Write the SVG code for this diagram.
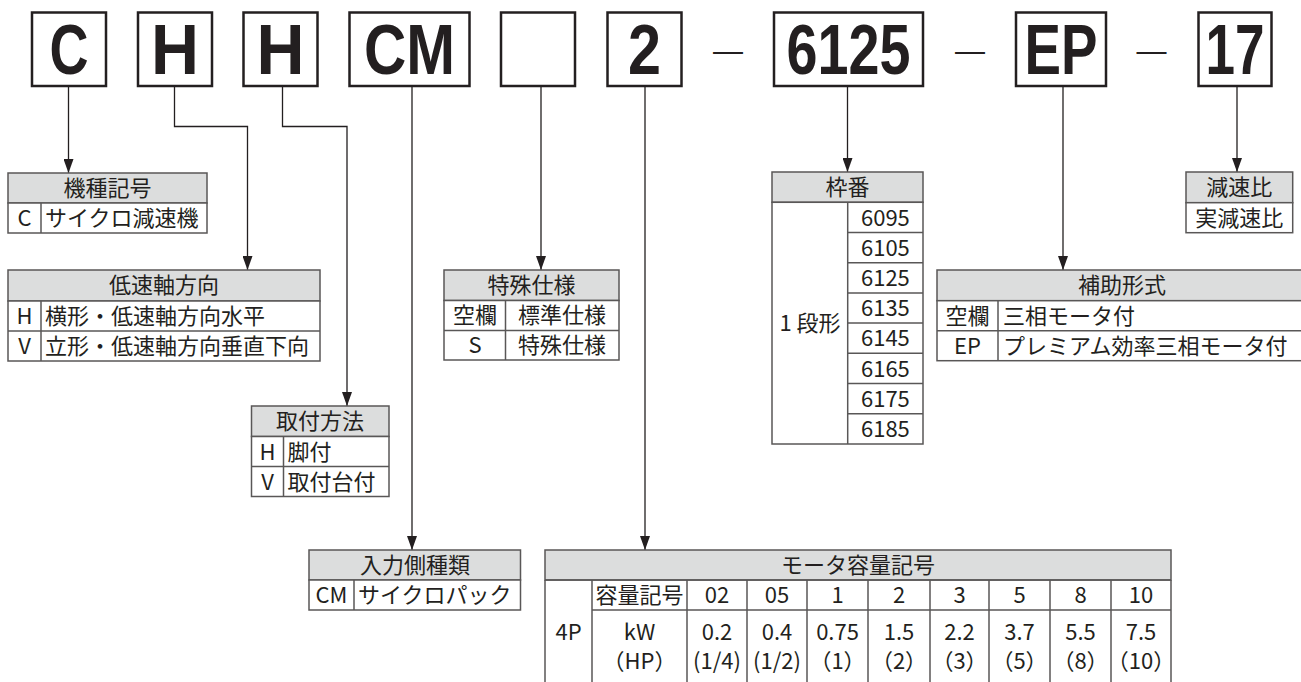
<svg xmlns="http://www.w3.org/2000/svg" width="1301" height="682" viewBox="0 0 1301 682">
<style>
.box{fill:#fff;stroke:#231f20;stroke-width:2.5}
.big{font-family:"Liberation Sans",Arial,sans-serif;font-weight:bold;font-size:70px;fill:#231f20;text-anchor:middle}
.dash{font-family:"Liberation Sans",Arial,sans-serif;font-size:32px;fill:#231f20;text-anchor:middle}
.hd{fill:#dcdddd;stroke:#595757;stroke-width:1.5}
.cl{fill:#fff;stroke:#595757;stroke-width:1.5}
.ln{stroke:#595757;stroke-width:1.5;fill:none}
.t{font-family:"Noto Sans CJK JP","Noto Sans",sans-serif;font-size:22px;fill:#231f20}
.m{text-anchor:middle}
.conn path{fill:none;stroke:#231f20;stroke-width:1.3;marker-end:url(#ah)}
</style>
<defs>
<marker id="ah" markerUnits="userSpaceOnUse" markerWidth="14" markerHeight="10" refX="14" refY="5" orient="auto">
<path d="M0,0 L14,5 L0,10 z" fill="#231f20"/>
</marker>
</defs>
<rect width="1301" height="682" fill="#fff"/>

<g id="code">
<g id="box-c"><rect class="box" x="32" y="12.5" width="74" height="73.5"/><text class="big" x="69" y="74" textLength="39" lengthAdjust="spacingAndGlyphs">C</text></g>
<g id="box-h1"><rect class="box" x="138" y="12.5" width="74" height="73.5"/><text class="big" x="175" y="74" textLength="48" lengthAdjust="spacingAndGlyphs">H</text></g>
<g id="box-h2"><rect class="box" x="243.5" y="12.5" width="74" height="73.5"/><text class="big" x="280.5" y="74" textLength="48" lengthAdjust="spacingAndGlyphs">H</text></g>
<g id="box-cm"><rect class="box" x="349.5" y="12.5" width="120" height="73.5"/><text class="big" x="409.5" y="74" textLength="91" lengthAdjust="spacingAndGlyphs">CM</text></g>
<g id="box-blank"><rect class="box" x="501" y="12.5" width="74" height="73.5"/></g>
<g id="box-2"><rect class="box" x="607.5" y="12.5" width="74" height="73.5"/><text class="big" x="644.5" y="74" textLength="33" lengthAdjust="spacingAndGlyphs">2</text></g>
<text class="dash" x="728" y="61" textLength="30" lengthAdjust="spacingAndGlyphs">—</text>
<g id="box-6125"><rect class="box" x="774" y="12.5" width="149" height="73.5"/><text class="big" x="848.5" y="74" textLength="124" lengthAdjust="spacingAndGlyphs">6125</text></g>
<text class="dash" x="970" y="61" textLength="30" lengthAdjust="spacingAndGlyphs">—</text>
<g id="box-ep"><rect class="box" x="1016" y="12.5" width="90" height="73.5"/><text class="big" x="1061" y="74" textLength="73" lengthAdjust="spacingAndGlyphs">EP</text></g>
<text class="dash" x="1151.5" y="61" textLength="30" lengthAdjust="spacingAndGlyphs">—</text>
<g id="box-17"><rect class="box" x="1198.5" y="12.5" width="73" height="73.5"/><text class="big" x="1235" y="74" textLength="59" lengthAdjust="spacingAndGlyphs">17</text></g>
</g>

<g class="conn" id="connectors">
<path d="M68.5 86 V173"/>
<path d="M174.5 86 V126.5 H247.5 V270"/>
<path d="M282.5 86 V126.5 H347 V406"/>
<path d="M412 86 V550"/>
<path d="M541 86 V270"/>
<path d="M645 86 V550"/>
<path d="M847.5 86 V172"/>
<path d="M1063 86 V270"/>
<path d="M1237 86 V172"/>
</g>

<g id="t-kishu">
<rect class="hd" x="8" y="173" width="199" height="30"/>
<rect class="cl" x="8" y="203" width="199" height="30"/>
<line class="ln" x1="41" y1="203" x2="41" y2="233"/>
<text class="t m" x="107.5" y="196">機種記号</text>
<text class="t m" x="24.5" y="226">C</text>
<text class="t" x="45" y="226">サイクロ減速機</text>
</g>

<g id="t-teisoku">
<rect class="hd" x="8" y="270" width="312" height="31"/>
<rect class="cl" x="8" y="301" width="312" height="60"/>
<line class="ln" x1="8" y1="331" x2="320" y2="331"/>
<line class="ln" x1="41" y1="301" x2="41" y2="361"/>
<text class="t m" x="164" y="293">低速軸方向</text>
<text class="t m" x="24.5" y="324">H</text>
<text class="t" x="45" y="324">横形・低速軸方向水平</text>
<text class="t m" x="24.5" y="354">V</text>
<text class="t" x="45" y="354">立形・低速軸方向垂直下向</text>
</g>

<g id="t-toritsuke">
<rect class="hd" x="251.5" y="406" width="137.5" height="30.5"/>
<rect class="cl" x="251.5" y="436.5" width="137.5" height="60"/>
<line class="ln" x1="251.5" y1="466.5" x2="389" y2="466.5"/>
<line class="ln" x1="283.5" y1="436.5" x2="283.5" y2="496.5"/>
<text class="t m" x="320" y="429">取付方法</text>
<text class="t m" x="267.5" y="459.5">H</text>
<text class="t" x="287.5" y="459.5">脚付</text>
<text class="t m" x="267.5" y="489.5">V</text>
<text class="t" x="287.5" y="489.5">取付台付</text>
</g>

<g id="t-nyuryoku">
<rect class="hd" x="309" y="550" width="211.5" height="30"/>
<rect class="cl" x="309" y="580" width="211.5" height="30"/>
<line class="ln" x1="354" y1="580" x2="354" y2="610"/>
<text class="t m" x="415" y="573">入力側種類</text>
<text class="t m" x="331.5" y="603">CM</text>
<text class="t" x="358" y="603">サイクロパック</text>
</g>

<g id="t-tokushu">
<rect class="hd" x="444" y="270" width="175" height="30.5"/>
<rect class="cl" x="444" y="300.5" width="175" height="59.5"/>
<line class="ln" x1="444" y1="330.5" x2="619" y2="330.5"/>
<line class="ln" x1="505.5" y1="300.5" x2="505.5" y2="360"/>
<text class="t m" x="531.5" y="293">特殊仕様</text>
<text class="t m" x="475" y="323">空欄</text>
<text class="t m" x="562" y="323">標準仕様</text>
<text class="t m" x="475" y="353">S</text>
<text class="t m" x="562" y="353">特殊仕様</text>
</g>

<g id="t-wakuban">
<rect class="hd" x="772" y="172" width="151" height="30.3"/>
<rect class="cl" x="772" y="202.3" width="151" height="241.7"/>
<line class="ln" x1="847.7" y1="202.3" x2="847.7" y2="444"/>
<path class="ln" d="M847.7 232.5 H923 M847.7 262.7 H923 M847.7 292.9 H923 M847.7 323.1 H923 M847.7 353.3 H923 M847.7 383.5 H923 M847.7 413.7 H923"/>
<text class="t m" x="847.5" y="195">枠番</text>
<text class="t m" x="810" y="331">1 段形</text>
<text class="t m" x="885.4" y="225.5">6095</text>
<text class="t m" x="885.4" y="255.7">6105</text>
<text class="t m" x="885.4" y="285.9">6125</text>
<text class="t m" x="885.4" y="316.1">6135</text>
<text class="t m" x="885.4" y="346.3">6145</text>
<text class="t m" x="885.4" y="376.5">6165</text>
<text class="t m" x="885.4" y="406.7">6175</text>
<text class="t m" x="885.4" y="436.9">6185</text>
</g>

<g id="t-hojo">
<rect class="hd" x="937" y="270" width="366" height="30.7"/>
<rect class="cl" x="937" y="300.7" width="366" height="60"/>
<line class="ln" x1="937" y1="330.7" x2="1303" y2="330.7"/>
<line class="ln" x1="998" y1="300.7" x2="998" y2="360.7"/>
<text class="t m" x="1122" y="293">補助形式</text>
<text class="t m" x="967.5" y="323.5">空欄</text>
<text class="t" x="1003" y="323.5">三相モータ付</text>
<text class="t m" x="967.5" y="353.5">EP</text>
<text class="t" x="1003" y="353.5">プレミアム効率三相モータ付</text>
</g>

<g id="t-gensoku">
<rect class="hd" x="1186" y="172" width="106.7" height="30.7"/>
<rect class="cl" x="1186" y="202.7" width="106.7" height="30"/>
<text class="t m" x="1239.3" y="195">減速比</text>
<text class="t m" x="1239.3" y="225.5">実減速比</text>
</g>

<g id="t-motor">
<rect class="hd" x="545" y="550" width="626" height="30"/>
<path class="ln" d="M545 580 V682 M1171 580 V682 M592 580 V682 M592 610 H1171 M545 580 H1171 M687 580 V682 M747 580 V682 M807 580 V682 M868 580 V682 M930 580 V682 M989 580 V682 M1050 580 V682 M1111 580 V682"/>
<text class="t m" x="858" y="573">モータ容量記号</text>
<text class="t m" x="568.5" y="640">4P</text>
<text class="t m" x="639.5" y="603">容量記号</text>
<text class="t m" x="717" y="603">02</text>
<text class="t m" x="777" y="603">05</text>
<text class="t m" x="837.5" y="603">1</text>
<text class="t m" x="899" y="603">2</text>
<text class="t m" x="959.5" y="603">3</text>
<text class="t m" x="1019.5" y="603">5</text>
<text class="t m" x="1080.5" y="603">8</text>
<text class="t m" x="1141" y="603">10</text>
<text class="t m" x="639.5" y="640">kW</text>
<text class="t m" x="639.5" y="669">（HP）</text>
<text class="t m" x="717" y="640">0.2</text>
<text class="t m" x="717" y="669">(1/4)</text>
<text class="t m" x="777" y="640">0.4</text>
<text class="t m" x="777" y="669">(1/2)</text>
<text class="t m" x="837.5" y="640">0.75</text>
<text class="t m" x="837.5" y="669">（1）</text>
<text class="t m" x="899" y="640">1.5</text>
<text class="t m" x="899" y="669">（2）</text>
<text class="t m" x="959.5" y="640">2.2</text>
<text class="t m" x="959.5" y="669">（3）</text>
<text class="t m" x="1019.5" y="640">3.7</text>
<text class="t m" x="1019.5" y="669">（5）</text>
<text class="t m" x="1080.5" y="640">5.5</text>
<text class="t m" x="1080.5" y="669">（8）</text>
<text class="t m" x="1141" y="640">7.5</text>
<text class="t m" x="1141" y="669">（10）</text>
</g>
</svg>
